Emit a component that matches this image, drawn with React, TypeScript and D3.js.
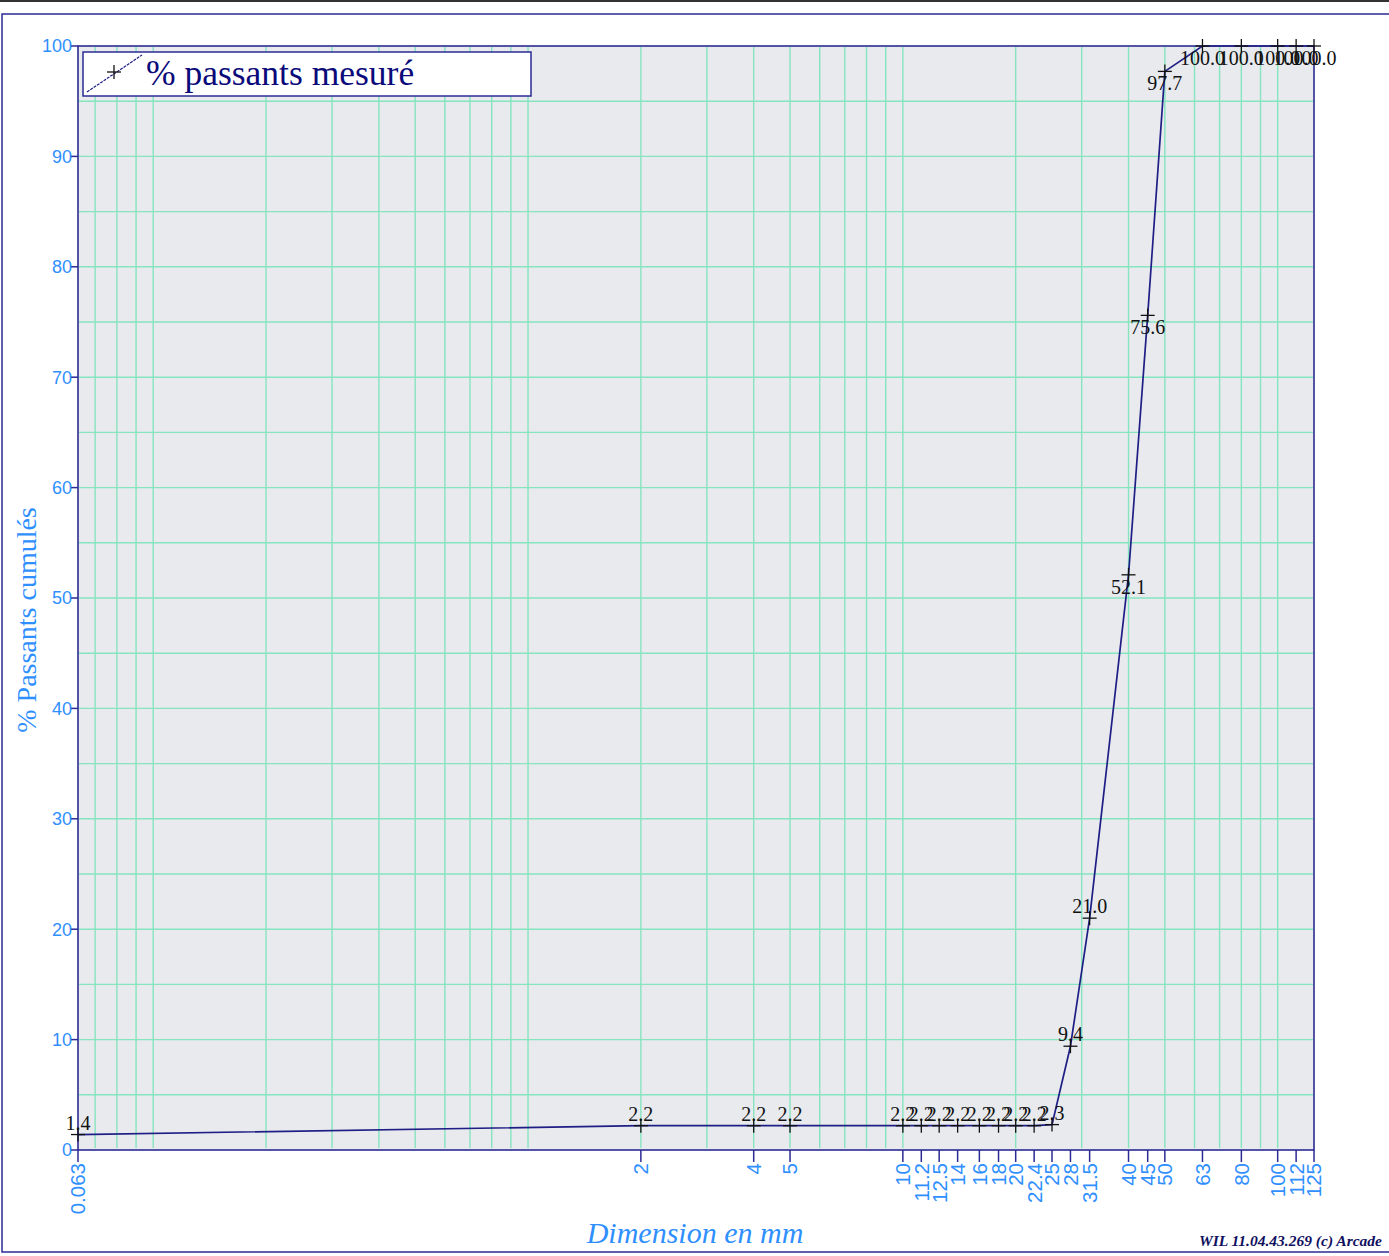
import React from "react";
import * as d3 from "d3";

const sieveSizes = [0.063, 2, 4, 5, 10, 11.2, 12.5, 14, 16, 18, 20, 22.4, 25, 28, 31.5, 40, 45, 50, 63, 80, 100, 112, 125];
const sieveLabels = ["0.063", "2", "4", "5", "10", "11.2", "12.5", "14", "16", "18", "20", "22.4", "25", "28", "31.5", "40", "45", "50", "63", "80", "100", "112", "125"];
const passing = [1.4, 2.2, 2.2, 2.2, 2.2, 2.2, 2.2, 2.2, 2.2, 2.2, 2.2, 2.2, 2.3, 9.4, 21.0, 52.1, 75.6, 97.7, 100, 100, 100, 100, 100];
const gridX = [0.07, 0.08, 0.09, 0.1, 0.2, 0.3, 0.4, 0.5, 0.6, 0.7, 0.8, 0.9, 1, 2, 3, 4, 5, 6, 7, 8, 9, 10, 20, 30, 40, 50, 60, 70, 80, 90, 100];
const gridY = [5, 10, 15, 20, 25, 30, 35, 40, 45, 50, 55, 60, 65, 70, 75, 80, 85, 90, 95];
const yTicks = [0, 10, 20, 30, 40, 50, 60, 70, 80, 90, 100];

const W = 1389;
const H = 1256;
const left = 78, right = 1314, top = 46, bottom = 1150;

const NAVY = "#2b2b95";
const BLUE = "#2f8fff";
const GRID = "#86e4bf";

export default function App() {
  const x = d3.scaleLog().domain([0.063, 125]).range([left, right]);
  const y = d3.scaleLinear().domain([0, 100]).range([bottom, top]);
  const line = d3.line<number>().x((_, i) => x(sieveSizes[i])).y((d) => y(d));
  const serif = "'Liberation Serif', 'Times New Roman', serif";
  const sans = "'Liberation Sans', Arial, sans-serif";

  return (
    <svg width={W} height={H} style={{ position: "absolute", left: 0, top: 0, background: "#fff" }}>
      <rect x={0} y={0} width={W} height={2} fill="#333" />
      <rect x={2} y={14} width={W + 10} height={1238} fill="#fff" stroke={NAVY} strokeWidth={1.5} />
      <rect x={left} y={top} width={right - left} height={bottom - top} fill="#e8eaee" />
      {gridX.map((g) => (
        <line key={"gx" + g} x1={x(g)} x2={x(g)} y1={top + 1} y2={bottom - 2} stroke={GRID} strokeWidth={1.4} />
      ))}
      {gridY.map((g) => (
        <line key={"gy" + g} x1={left + 1} x2={right - 1} y1={y(g)} y2={y(g)} stroke={GRID} strokeWidth={1.4} />
      ))}
      <rect x={left} y={top} width={right - left} height={bottom - top} fill="none" stroke={NAVY} strokeWidth={1.6} />
      {yTicks.map((t) => (
        <g key={"yt" + t}>
          <line x1={left - 7} x2={left} y1={y(t)} y2={y(t)} stroke={NAVY} strokeWidth={1.5} />
          <text x={left - 6} y={y(t)} dy="0.35em" textAnchor="end" fontFamily={sans} fontSize={18} fill={BLUE}>
            {t}
          </text>
        </g>
      ))}
      {sieveSizes.map((s, i) => (
        <g key={"xt" + i}>
          <line x1={x(s)} x2={x(s)} y1={bottom} y2={bottom + 12} stroke={NAVY} strokeWidth={1.5} />
          <text
            transform={`translate(${x(s)},${bottom + 13}) rotate(-90)`}
            dy="0.36em"
            textAnchor="end"
            fontFamily={sans}
            fontSize={20.5}
            fill={BLUE}
          >
            {sieveLabels[i]}
          </text>
        </g>
      ))}
      <path d={line(passing) || ""} fill="none" stroke="#1e1e85" strokeWidth={1.7} />
      {sieveSizes.map((s, i) => {
        const px = x(s), py = y(passing[i]);
        return (
          <g key={"m" + i}>
            <line x1={px - 7} x2={px + 7} y1={py} y2={py} stroke="#111" strokeWidth={1.3} />
            <line x1={px} x2={px} y1={py - 7} y2={py + 7} stroke="#111" strokeWidth={1.3} />
            <text
              x={px}
              y={passing[i] < 50 ? py - 5 : py + 19}
              textAnchor="middle"
              fontFamily={serif}
              fontSize={20}
              fill="#111"
            >
              {passing[i].toFixed(1)}
            </text>
          </g>
        );
      })}
      <rect x={83} y={52} width={448} height={44} fill="#fff" stroke={NAVY} strokeWidth={1.5} />
      <line x1={87} y1={92} x2={142} y2={55} stroke="#1e1e85" strokeWidth={1.2} strokeDasharray="3,1" />
      <line x1={107} x2={121} y1={72} y2={72} stroke="#111" strokeWidth={1.3} />
      <line x1={114} x2={114} y1={65} y2={79} stroke="#111" strokeWidth={1.3} />
      <text x={146} y={85} fontFamily={serif} fontSize={35.5} fill="#0a0a7a">
        % passants mesuré
      </text>
      <text x={695} y={1243} textAnchor="middle" fontFamily={serif} fontStyle="italic" fontSize={30} fill={BLUE}>
        Dimension en mm
      </text>
      <text
        transform={`translate(36,620) rotate(-90)`}
        textAnchor="middle"
        fontFamily={serif}
        fontSize={28}
        fill={BLUE}
      >
        % Passants cumulés
      </text>
      <text x={1382} y={1246} textAnchor="end" fontFamily={serif} fontStyle="italic" fontWeight="bold" fontSize={15.5} fill="#101060">
        WIL 11.04.43.269 (c) Arcade
      </text>
    </svg>
  );
}
